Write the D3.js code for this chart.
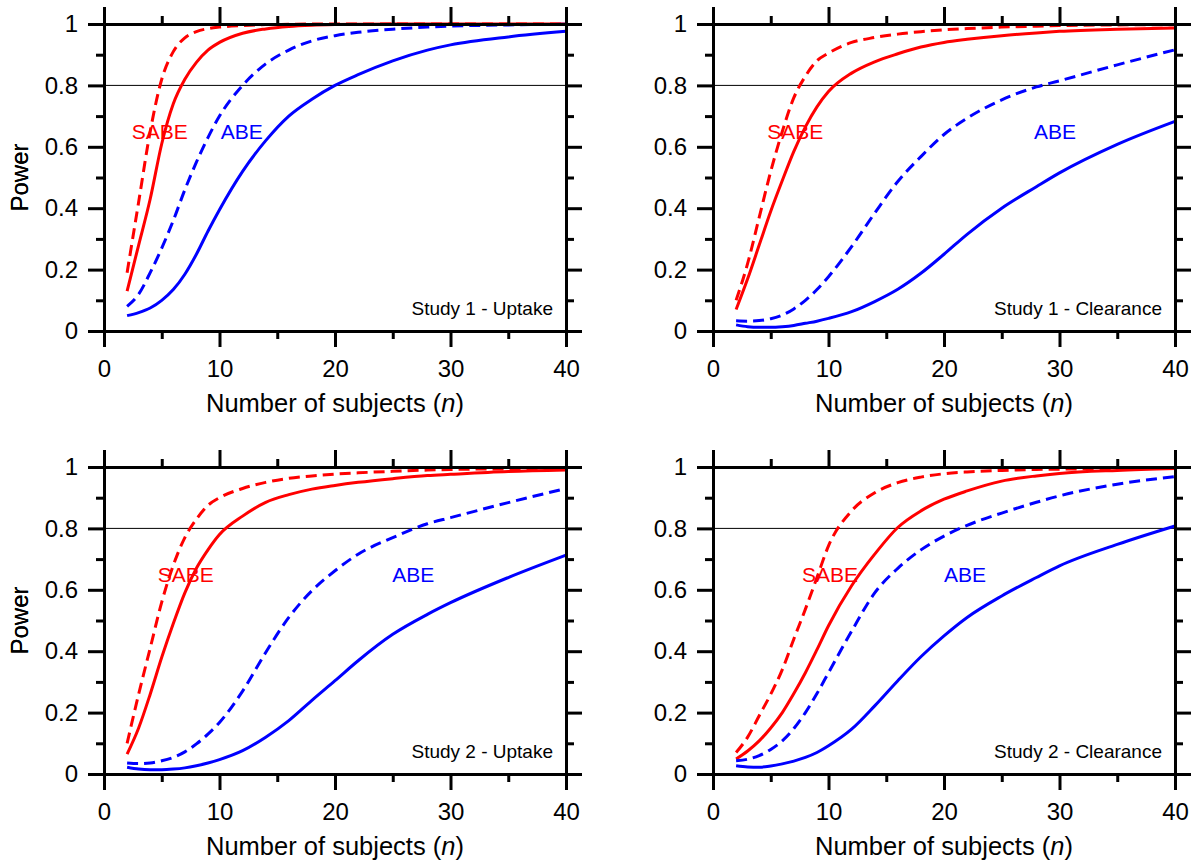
<!DOCTYPE html>
<html>
<head>
<meta charset="utf-8">
<script src="https://cdn.jsdelivr.net/npm/d3@7"></script>
<style>
  body { margin: 0; background: #fff; }
  svg { display: block; font-family: "Liberation Sans", Arial, sans-serif; }
</style>
</head>
<body>
<div id="chart"></div>
<script>
// sample sizes at which the power values were read
var n_values = [2, 3, 4, 5, 6, 7, 8, 9, 10, 12, 14, 16, 18, 20, 22, 25, 28, 30, 35, 40];

var panel_titles = ['Study 1 - Uptake', 'Study 1 - Clearance', 'Study 2 - Uptake', 'Study 2 - Clearance'];

// Study 1 - Uptake
var s1u_sabe_dash = [0.19, 0.42, 0.65, 0.82, 0.91, 0.955, 0.975, 0.985, 0.99, 0.995, 0.998, 0.999, 1, 1, 1, 1, 1, 1, 1, 1];
var s1u_sabe = [0.13, 0.28, 0.43, 0.61, 0.74, 0.82, 0.875, 0.915, 0.94, 0.97, 0.984, 0.992, 0.996, 0.998, 0.999, 1, 1, 1, 1, 1];
var s1u_abe_dash = [0.08, 0.12, 0.19, 0.27, 0.36, 0.46, 0.55, 0.63, 0.7, 0.8, 0.87, 0.915, 0.945, 0.962, 0.973, 0.983, 0.99, 0.993, 0.997, 0.999];
var s1u_abe = [0.05, 0.06, 0.075, 0.1, 0.135, 0.185, 0.25, 0.325, 0.395, 0.52, 0.62, 0.7, 0.755, 0.8, 0.835, 0.88, 0.915, 0.932, 0.958, 0.976];

// Study 1 - Clearance
var s1c_sabe_dash = [0.1, 0.22, 0.37, 0.52, 0.65, 0.76, 0.83, 0.88, 0.905, 0.94, 0.956, 0.967, 0.975, 0.981, 0.985, 0.99, 0.993, 0.995, 0.997, 0.998];
var s1c_sabe = [0.07, 0.17, 0.28, 0.39, 0.49, 0.585, 0.665, 0.73, 0.78, 0.84, 0.877, 0.903, 0.925, 0.94, 0.95, 0.962, 0.971, 0.976, 0.983, 0.987];
var s1c_abe_dash = [0.033, 0.032, 0.034, 0.04, 0.052, 0.072, 0.1, 0.135, 0.177, 0.275, 0.384, 0.487, 0.568, 0.64, 0.693, 0.753, 0.795, 0.815, 0.867, 0.916];
var s1c_abe = [0.02, 0.014, 0.012, 0.012, 0.014, 0.018, 0.025, 0.032, 0.041, 0.063, 0.096, 0.136, 0.188, 0.25, 0.315, 0.4, 0.47, 0.515, 0.608, 0.683];

// Study 2 - Uptake
var s2u_sabe_dash = [0.1, 0.26, 0.41, 0.56, 0.68, 0.77, 0.83, 0.875, 0.9, 0.93, 0.95, 0.963, 0.971, 0.977, 0.981, 0.986, 0.99, 0.992, 0.994, 0.996];
var s2u_sabe = [0.065, 0.15, 0.26, 0.38, 0.49, 0.59, 0.67, 0.73, 0.78, 0.84, 0.885, 0.91, 0.928, 0.94, 0.95, 0.962, 0.972, 0.976, 0.985, 0.99];
var s2u_abe_dash = [0.036, 0.034, 0.036, 0.043, 0.054, 0.072, 0.098, 0.13, 0.168, 0.27, 0.396, 0.51, 0.597, 0.662, 0.716, 0.77, 0.815, 0.835, 0.884, 0.93];
var s2u_abe = [0.022, 0.016, 0.014, 0.014, 0.016, 0.02, 0.027, 0.036, 0.047, 0.076, 0.12, 0.174, 0.24, 0.304, 0.369, 0.455, 0.52, 0.558, 0.64, 0.713];

// Study 2 - Clearance
var s2c_sabe_dash = [0.07, 0.12, 0.19, 0.26, 0.34, 0.44, 0.537, 0.64, 0.743, 0.857, 0.916, 0.949, 0.967, 0.978, 0.984, 0.989, 0.992, 0.993, 0.995, 0.996];
var s2c_sabe = [0.049, 0.075, 0.108, 0.15, 0.2, 0.262, 0.33, 0.405, 0.483, 0.613, 0.716, 0.803, 0.857, 0.895, 0.922, 0.954, 0.971, 0.979, 0.989, 0.995];
var s2c_abe_dash = [0.043, 0.048, 0.06, 0.08, 0.108, 0.148, 0.2, 0.262, 0.33, 0.465, 0.59, 0.67, 0.73, 0.775, 0.81, 0.85, 0.885, 0.906, 0.944, 0.969];
var s2c_abe = [0.027, 0.023, 0.022, 0.026, 0.033, 0.042, 0.054, 0.07, 0.092, 0.146, 0.222, 0.304, 0.382, 0.45, 0.51, 0.58, 0.64, 0.678, 0.748, 0.808];

var x_ticks = [0, 10, 20, 30, 40];
var x_minor = [5, 15, 25, 35];
var y_ticks = [0, 0.2, 0.4, 0.6, 0.8, 1];
var y_minor = [0.1, 0.3, 0.5, 0.7, 0.9];
var target_power = 0.8;

// where the SABE / ABE words sit (n at left edge of the word)
var sabe_label_n = [2.4, 4.7, 4.65, 7.7];
var abe_label_n = [10.1, 27.8, 24.95, 20.0];
var label_power = 0.625;

var panel_series = [
    [s1u_sabe_dash, s1u_sabe, s1u_abe_dash, s1u_abe],
    [s1c_sabe_dash, s1c_sabe, s1c_abe_dash, s1c_abe],
    [s2u_sabe_dash, s2u_sabe, s2u_abe_dash, s2u_abe],
    [s2c_sabe_dash, s2c_sabe, s2c_abe_dash, s2c_abe]
];

var width = 1197;
var height = 868;
var plot_w = 462;
var plot_h = 307;
var origins = [[104, 24], [713, 24], [104, 467], [713, 467]];
var series_style = [
    { color: '#ff0000', dash: '11,6' },
    { color: '#ff0000', dash: null },
    { color: '#0000ff', dash: '11,6' },
    { color: '#0000ff', dash: null }
];

var svg = d3.select('#chart')
    .append('svg')
    .attr('width', width)
    .attr('height', height);

var x_scale = d3.scaleLinear().domain([0, 40]).range([0, plot_w]);
var y_scale = d3.scaleLinear().domain([0, 1]).range([plot_h, 0]);

var line = d3.line()
    .x(function (d) { return x_scale(d[0]); })
    .y(function (d) { return y_scale(d[1]); })
    .curve(d3.curveMonotoneX);

function style_axis(g, labels) {
    g.select('.domain').attr('stroke', '#000').attr('stroke-width', 3);
    g.selectAll('.tick line').attr('stroke', '#000').attr('stroke-width', 3);
    g.selectAll('.tick text')
        .attr('fill', '#000')
        .style('font-size', '24px')
        .style('display', labels ? null : 'none');
}

origins.forEach(function (o, p) {
    var g = svg.append('g').attr('transform', 'translate(' + o[0] + ',' + o[1] + ')');

    // 0.8 reference line
    g.append('line')
        .attr('x1', 0).attr('x2', plot_w)
        .attr('y1', y_scale(target_power)).attr('y2', y_scale(target_power))
        .attr('stroke', '#000').attr('stroke-width', 1);

    // power curves
    panel_series[p].forEach(function (vals, i) {
        var pts = n_values.map(function (n, k) { return [n, vals[k]]; });
        g.append('path')
            .datum(pts)
            .attr('d', line)
            .attr('fill', 'none')
            .attr('stroke', series_style[i].color)
            .attr('stroke-width', 3)
            .attr('stroke-dasharray', series_style[i].dash);
    });

    // minor ticks
    g.append('g').attr('transform', 'translate(0,' + plot_h + ')')
        .call(d3.axisBottom(x_scale).tickValues(x_minor).tickSize(8).tickSizeOuter(0).tickFormat(''))
        .call(style_axis, false);
    g.append('g')
        .call(d3.axisTop(x_scale).tickValues(x_minor).tickSize(8).tickSizeOuter(0).tickFormat(''))
        .call(style_axis, false);
    g.append('g')
        .call(d3.axisLeft(y_scale).tickValues(y_minor).tickSize(8).tickSizeOuter(0).tickFormat(''))
        .call(style_axis, false);
    g.append('g').attr('transform', 'translate(' + plot_w + ',0)')
        .call(d3.axisRight(y_scale).tickValues(y_minor).tickSize(8).tickSizeOuter(0).tickFormat(''))
        .call(style_axis, false);

    // major ticks + labels
    g.append('g').attr('transform', 'translate(0,' + plot_h + ')')
        .call(d3.axisBottom(x_scale).tickValues(x_ticks).tickSize(16).tickSizeOuter(0).tickPadding(13).tickFormat(d3.format('d')))
        .call(style_axis, true);
    g.append('g')
        .call(d3.axisTop(x_scale).tickValues(x_ticks).tickSize(17).tickSizeOuter(0))
        .call(style_axis, false);
    g.append('g')
        .call(d3.axisLeft(y_scale).tickValues(y_ticks).tickSize(16).tickSizeOuter(0).tickPadding(10)
            .tickFormat(function (d) { return d3.format('')(+d.toFixed(1)); }))
        .call(style_axis, true);
    g.append('g').attr('transform', 'translate(' + plot_w + ',0)')
        .call(d3.axisRight(y_scale).tickValues(y_ticks).tickSize(16).tickSizeOuter(0))
        .call(style_axis, false);

    // SABE / ABE words
    g.append('text')
        .attr('x', x_scale(sabe_label_n[p]))
        .attr('y', y_scale(label_power))
        .attr('fill', '#ff0000')
        .style('font-size', '21px')
        .text('SABE');
    g.append('text')
        .attr('x', x_scale(abe_label_n[p]))
        .attr('y', y_scale(label_power))
        .attr('fill', '#0000ff')
        .style('font-size', '21px')
        .text('ABE');

    // panel title
    g.append('text')
        .attr('x', plot_w - 13)
        .attr('y', plot_h - 16)
        .attr('text-anchor', 'end')
        .style('font-size', '19px')
        .attr('fill', '#000')
        .text(panel_titles[p]);

    // axis titles
    var xt = g.append('text')
        .attr('x', plot_w / 2)
        .attr('y', plot_h + 81)
        .attr('text-anchor', 'middle')
        .style('font-size', '25.5px')
        .attr('fill', '#000');
    xt.append('tspan').text('Number of subjects (');
    xt.append('tspan').style('font-style', 'italic').text('n');
    xt.append('tspan').text(')');

    g.append('text')
        .attr('transform', 'translate(' + (-o[0] + 28) + ',' + (plot_h / 2) + ') rotate(-90)')
        .attr('text-anchor', 'middle')
        .style('font-size', '24px')
        .attr('fill', '#000')
        .text('Power');
});
</script>
</body>
</html>
